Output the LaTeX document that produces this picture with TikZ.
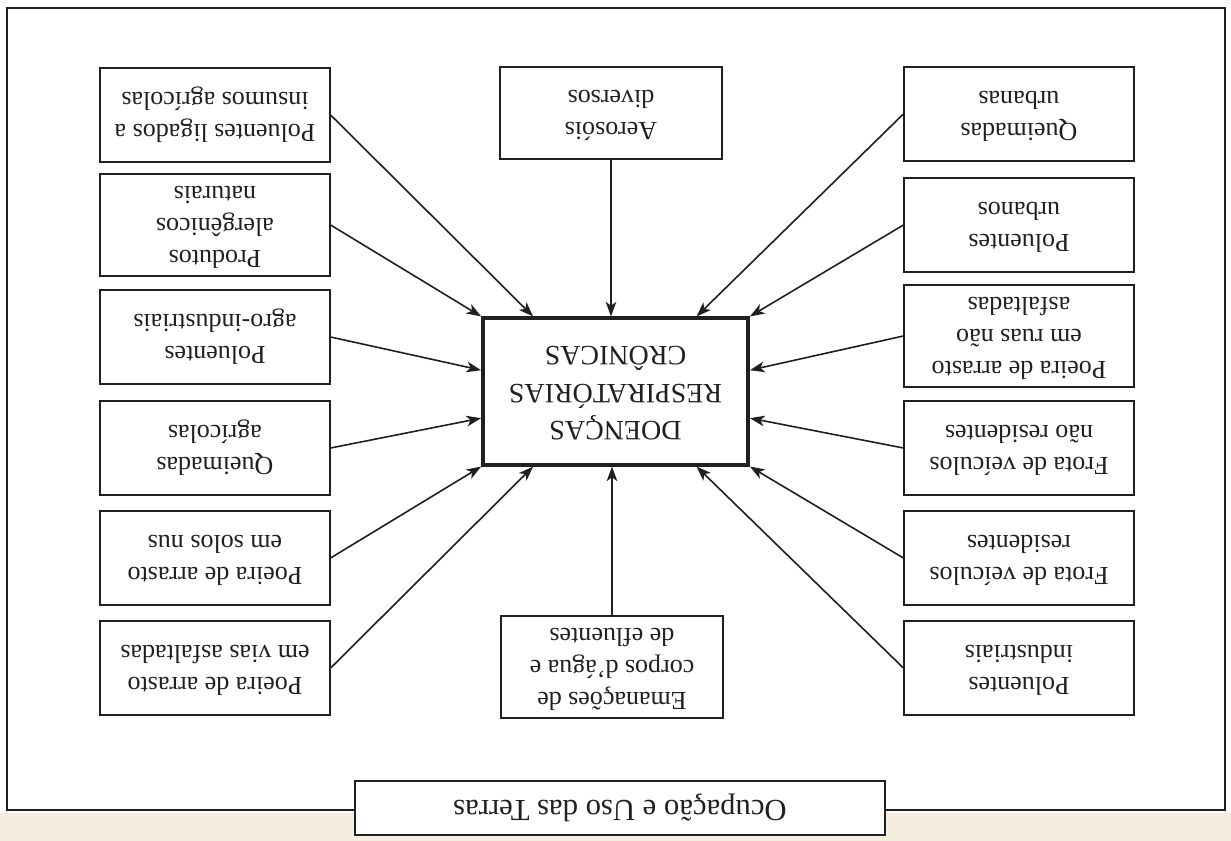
\documentclass[tikz,border=0pt]{standalone}
\usepackage{fontspec}
\setmainfont{Liberation Serif}
\usetikzlibrary{arrows.meta}
\definecolor{ink}{HTML}{202020}
\definecolor{paper}{HTML}{F4EDE0}
\newcommand{\ud}[1]{\rotatebox{180}{\begin{tabular}{@{}c@{}}#1\end{tabular}}}
\tikzset{
  x=0.75pt, y=-0.75pt,
  sidebox/.style={draw=ink, line width=1.4pt, fill=white, minimum width=172pt, minimum height=70pt, inner sep=2pt,
    font=\fontsize{19.5}{24}\selectfont, text=ink},
  midbox/.style={sidebox, minimum width=166pt, minimum height=69pt},
  centerbox/.style={draw=ink, line width=2.6pt, fill=white, minimum width=199pt, minimum height=110pt,
    font=\fontsize{21}{28}\selectfont, text=ink},
  titlebox/.style={draw=ink, line width=1.4pt, fill=white, minimum width=397pt, minimum height=41pt,
    font=\fontsize{23}{27}\selectfont, text=ink},
  conn/.style={draw=ink, line width=1.2pt, -{Stealth[length=11pt,width=8pt,inset=3pt]}}
}
\begin{document}
\begin{tikzpicture}
\useasboundingbox (0,0) rectangle (1231,841);
\fill[white] (0,0) rectangle (1231,813);
\fill[paper] (0,813) rectangle (1231,841);
% outer frame
\draw[ink, line width=1.5pt] (7,8) rectangle (1225,810);
% title
\node[titlebox] (T) at (620,808) {\rotatebox{180}{Ocupação e Uso das Terras}};
% center
\node[centerbox] (C) at (615.5,391.5) {\ud{DOENÇAS\\RESPIRATÓRIAS\\CRÔNICAS}};
% left column
\node[sidebox] (L1) at (215,115) {\ud{Poluentes ligados a\\insumos agrícolas}};
\node[sidebox] (L2) at (215,225) {\ud{Produtos\\alergênicos\\naturais}};
\node[sidebox] (L3) at (215,337) {\ud{Poluentes\\agro-industriais}};
\node[sidebox] (L4) at (215,448) {\ud{Queimadas\\agrícolas}};
\node[sidebox] (L5) at (215,558) {\ud{Poeira de arrasto\\em solos nus}};
\node[sidebox] (L6) at (215,668) {\ud{Poeira de arrasto\\em vias asfaltadas}};
% right column
\node[sidebox] (R1) at (1019,114) {\ud{Queimadas\\urbanas}};
\node[sidebox] (R2) at (1019,225) {\ud{Poluentes\\urbanos}};
\node[sidebox] (R3) at (1019,336) {\ud{Poeira de arrasto\\em ruas não\\asfaltadas}};
\node[sidebox] (R4) at (1019,448) {\ud{Frota de veículos\\não residentes}};
\node[sidebox] (R5) at (1019,558) {\ud{Frota de veículos\\residentes}};
\node[sidebox] (R6) at (1019,668) {\ud{Poluentes\\industriais}};
% middle
\node[midbox] (A) at (611,113) {\ud{Aerosóis\\diversos}};
\node[midbox, minimum height=71pt] (E) at (612,667) {\ud{Emanações de\\corpos d'água e\\de efluentes}};
% connectors
\draw[conn] (L1.east) -- ([xshift=39pt]C.north west);
\draw[conn] (L2.east) -- (C.north west);
\draw[conn] (L3.east) -- ([yshift=16pt]C.west);
\draw[conn] (L4.east) -- ([yshift=-20pt]C.west);
\draw[conn] (L5.east) -- (C.south west);
\draw[conn] (L6.east) -- ([xshift=39pt]C.south west);
\draw[conn] (R1.west) -- ([xshift=-40pt]C.north east);
\draw[conn] (R2.west) -- (C.north east);
\draw[conn] (R3.west) -- ([yshift=16pt]C.east);
\draw[conn] (R4.west) -- ([yshift=-20pt]C.east);
\draw[conn] (R5.west) -- (C.south east);
\draw[conn] (R6.west) -- ([xshift=-40pt]C.south east);
\draw[conn] (A.south) -- (A.south |- C.north);
\draw[conn] (E.north) -- (E.north |- C.south);
\end{tikzpicture}
\end{document}
